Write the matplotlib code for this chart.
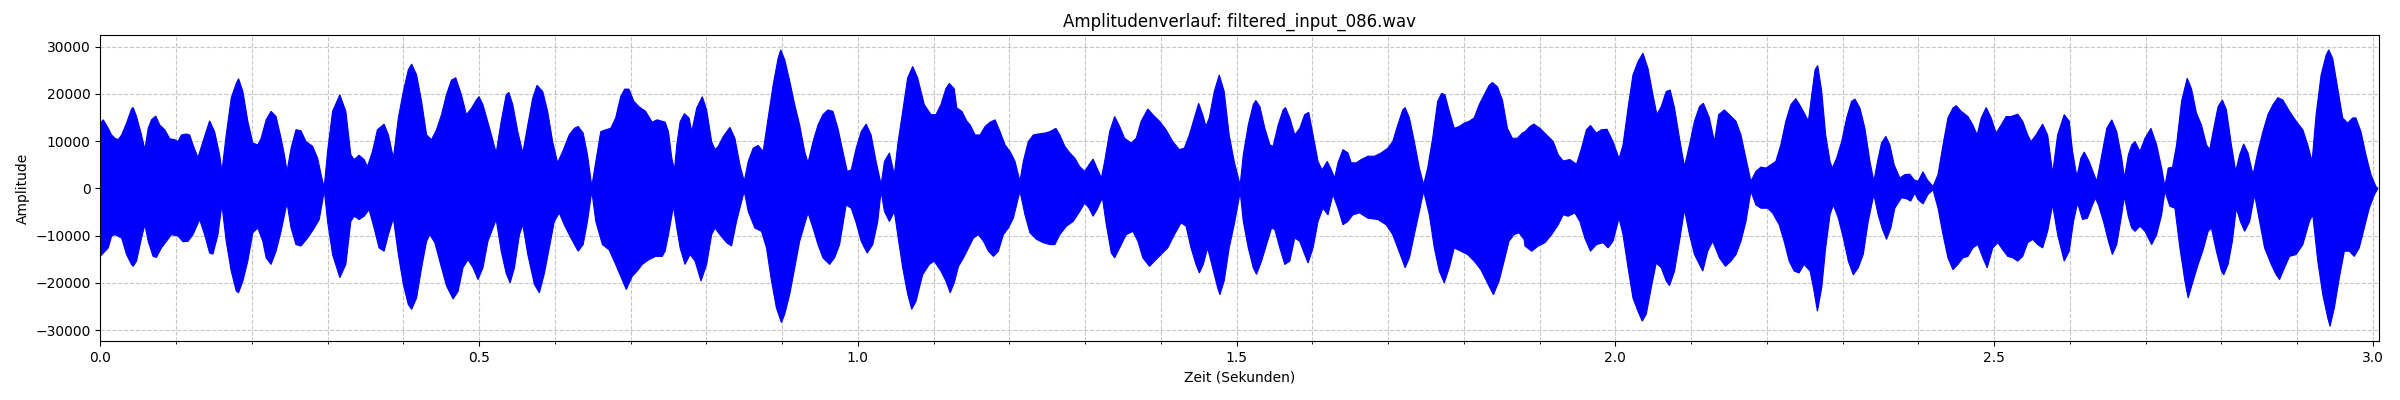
import matplotlib
matplotlib.use("Agg")
import matplotlib.pyplot as plt
from matplotlib.ticker import MultipleLocator
import numpy as np

title = "Amplitudenverlauf: filtered_input_086.wav"
x_label = "Zeit (Sekunden)"
y_label = "Amplitude"
duration = 3.0085

# Upper envelope of the waveform (time in s, amplitude)
upper_t = [
    0.0000, 0.0039, 0.0105, 0.0149, 0.0193, 0.0237, 0.0281, 0.0346, 0.0412, 0.0434, 0.0478, 0.0544, 0.0588,
    0.0632, 0.0675, 0.0732, 0.0785, 0.0851, 0.0917, 0.0982, 0.1026, 0.1070, 0.1136, 0.1180, 0.1224, 0.1289,
    0.1355, 0.1443, 0.1509, 0.1575, 0.1605, 0.1662, 0.1728, 0.1794, 0.1825, 0.1882, 0.1947, 0.2013, 0.2079,
    0.2123, 0.2189, 0.2254, 0.2320, 0.2386, 0.2430, 0.2465, 0.2518, 0.2583, 0.2649, 0.2715, 0.2803, 0.2868,
    0.2934, 0.2956, 0.3000, 0.3066, 0.3162, 0.3241, 0.3307, 0.3351, 0.3417, 0.3482, 0.3526, 0.3592, 0.3658,
    0.3746,
    0.3803, 0.3869, 0.3934, 0.4000, 0.4066, 0.4110, 0.4175, 0.4241, 0.4307, 0.4372, 0.4438, 0.4504, 0.4569,
    0.4635, 0.4692, 0.4767, 0.4832, 0.4898, 0.4964, 0.5000, 0.5051, 0.5139, 0.5226, 0.5292, 0.5358, 0.5393,
    0.5445, 0.5511, 0.5577, 0.5643, 0.5708, 0.5765, 0.5840, 0.5905, 0.5971, 0.6037, 0.6103, 0.6190, 0.6256,
    0.6308, 0.6374, 0.6431, 0.6488, 0.6541, 0.6606, 0.6672, 0.6738, 0.6803, 0.6869, 0.6922, 0.6978, 0.7044,
    0.7110, 0.7198, 0.7285, 0.7351, 0.7417,
    0.7456, 0.7500, 0.7544, 0.7579, 0.7610, 0.7654, 0.7711, 0.7772, 0.7807, 0.7873, 0.7947, 0.8004, 0.8070,
    0.8114, 0.8158, 0.8224, 0.8311, 0.8377, 0.8443, 0.8500, 0.8553, 0.8618, 0.8684, 0.8750, 0.8816, 0.8882,
    0.8947, 0.8982, 0.9035, 0.9101, 0.9167, 0.9232, 0.9298, 0.9342, 0.9408, 0.9474, 0.9539, 0.9605, 0.9671,
    0.9737, 0.9803, 0.9860, 0.9912, 0.9978, 1.0044, 1.0110, 1.0175, 1.0241, 1.0307, 1.0351, 1.0417, 1.0482,
    1.0526, 1.0592, 1.0658, 1.0724, 1.0789, 1.0877, 1.0965, 1.1031, 1.1096, 1.1162, 1.1206, 1.1272,
    1.1307, 1.1373, 1.1439, 1.1483, 1.1548, 1.1614, 1.1680, 1.1746, 1.1812, 1.1877, 1.1943, 1.2009, 1.2075,
    1.2140, 1.2184, 1.2250, 1.2316, 1.2381, 1.2469, 1.2535, 1.2614, 1.2666, 1.2732, 1.2798, 1.2864, 1.2929,
    1.2995, 1.3052, 1.3105, 1.3157, 1.3214, 1.3258, 1.3324, 1.3390, 1.3456, 1.3521, 1.3609, 1.3675, 1.3740,
    1.3828, 1.3894, 1.3982, 1.4069, 1.4157, 1.4245, 1.4310, 1.4376, 1.4442, 1.4499, 1.4552, 1.4595, 1.4639,
    1.4705, 1.4771, 1.4836, 1.4902, 1.4968, 1.5034,
    1.5044, 1.5088, 1.5154, 1.5219, 1.5254, 1.5307, 1.5373, 1.5439, 1.5482, 1.5548, 1.5614, 1.5645, 1.5702,
    1.5768, 1.5833, 1.5899, 1.5952, 1.6009, 1.6075, 1.6127, 1.6197, 1.6250, 1.6294, 1.6338, 1.6404, 1.6469,
    1.6513, 1.6579, 1.6645, 1.6732, 1.6820, 1.6908, 1.6996, 1.7061, 1.7127, 1.7193, 1.7224, 1.7281, 1.7346,
    1.7412, 1.7469, 1.7522, 1.7588, 1.7654, 1.7706, 1.7750, 1.7807, 1.7873, 1.7939, 1.8004, 1.8070, 1.8136,
    1.8202, 1.8268, 1.8333, 1.8377, 1.8443, 1.8509, 1.8575, 1.8640, 1.8706, 1.8772,
    1.8807, 1.8873, 1.8925, 1.9004, 1.9092, 1.9180, 1.9246, 1.9311, 1.9399, 1.9487, 1.9553, 1.9618, 1.9671,
    1.9750, 1.9816, 1.9890, 1.9969, 2.0048, 2.0101, 2.0167, 2.0232, 2.0298, 2.0364, 2.0430, 2.0496, 2.0548,
    2.0605, 2.0671, 2.0724, 2.0781, 2.0846, 2.0912, 2.0978, 2.1044, 2.1110, 2.1162, 2.1241, 2.1307, 2.1364,
    2.1439, 2.1504, 2.1592, 2.1658, 2.1724, 2.1789, 2.1855, 2.1921, 2.1987, 2.2053, 2.2118, 2.2184, 2.2250,
    2.2316, 2.2382, 2.2447, 2.2504,
    2.2548, 2.2592, 2.2636, 2.2671, 2.2724, 2.2776, 2.2833, 2.2864, 2.2921, 2.2987, 2.3053, 2.3118, 2.3162,
    2.3228, 2.3294, 2.3360, 2.3412, 2.3461, 2.3513, 2.3570, 2.3623, 2.3680, 2.3754, 2.3820, 2.3886, 2.3943,
    2.3996, 2.4061, 2.4118, 2.4193, 2.4259, 2.4325, 2.4390, 2.4456, 2.4500, 2.4566, 2.4654, 2.4719, 2.4776,
    2.4829, 2.4895, 2.4961, 2.5026, 2.5092, 2.5158, 2.5224, 2.5311, 2.5377, 2.5443, 2.5487, 2.5553, 2.5640,
    2.5706, 2.5772, 2.5838, 2.5925, 2.5991, 2.6035, 2.6092, 2.6145, 2.6189, 2.6254, 2.6320,
    2.6355, 2.6421, 2.6487, 2.6553, 2.6618, 2.6684, 2.6719, 2.6772, 2.6816, 2.6860, 2.6925, 2.6991, 2.7070,
    2.7145, 2.7211, 2.7254, 2.7298, 2.7355, 2.7408, 2.7474, 2.7548, 2.7605, 2.7671, 2.7737, 2.7803, 2.7846,
    2.7890, 2.7956, 2.8013, 2.8066, 2.8132, 2.8189, 2.8241, 2.8294, 2.8351, 2.8417, 2.8482, 2.8548, 2.8614,
    2.8680, 2.8746, 2.8811, 2.8899, 2.8987, 2.9075, 2.9140, 2.9197, 2.9250, 2.9316, 2.9382, 2.9417, 2.9469,
    2.9535, 2.9601, 2.9667, 2.9732, 2.9776, 2.9842, 2.9908, 2.9974, 3.0039, 3.0066,
]
upper_amp = [
    13800, 14500, 12700, 11300, 10600, 10300, 11300, 13800, 16800, 17100, 15200, 11300, 8200,
    12700, 14500, 15300, 13400, 12400, 10500, 10300, 9900, 11300, 11500, 11300, 9200, 6500,
    9900, 14300, 12000, 7100, 3600, 11300, 19100, 22200, 23200, 20500, 14200, 9600, 9200,
    10600, 14500, 16300, 15200, 10600, 7100, 3600, 8500, 12400, 12200, 9900, 8900, 6400,
    1500, 300, 7800, 16300, 19800, 16300, 7100, 6100, 7000, 6100, 4600, 7800, 12400,
    13600,
    11300, 6400, 14900, 20500, 25100, 26300, 24000, 18400, 11300, 10300, 12400, 15600, 19800,
    22900, 23400, 19800, 15600, 16900, 18700, 19400, 17700, 12700, 7500, 14200, 19800, 20300,
    17700, 12000, 7500, 13400, 19100, 21800, 20500, 16300, 9900, 5400, 7800, 11300, 12700,
    13100, 11700, 7100, 400, 5700, 12000, 12400, 12700, 14900, 19400, 21000, 21000, 18400,
    17300, 16300, 14000, 14500, 14200,
    14000, 12000, 6400, 3900, 9200, 14100, 15800, 14900, 12000, 17000, 19400, 16600, 9900,
    8200, 8900, 11000, 12900, 10600, 5000, 1500, 5700, 8500, 9100, 7800, 14900, 21900,
    27500, 29300, 27200, 22700, 17700, 13400, 7800, 5400, 9900, 13400, 15600, 16600, 16300,
    12700, 7800, 3600, 3900, 8500, 12000, 13600, 11300, 5700, 800, 5700, 7500, 2900,
    9200, 16300, 23400, 25800, 23400, 17700, 15600, 15600, 17700, 21100, 22200, 21100,
    17000, 16300, 14200, 13400, 11300, 11300, 13100, 14000, 14500, 12000, 9200, 7800, 5700,
    1500, 5700, 9900, 11300, 11500, 11700, 12000, 12700, 11300, 8900, 7500, 6400, 4600,
    3600, 5000, 6200, 4300, 2200, 5700, 12000, 15200, 13100, 10600, 9600, 10600, 14200,
    16800, 15600, 14200, 12400, 9900, 8200, 8500, 11300, 14900, 18000, 15600, 13100, 14900,
    20500, 24000, 20500, 11300, 5700, 1500,
    300, 7100, 13400, 17700, 18600, 17300, 12700, 9200, 8900, 13400, 16600, 17100, 14900,
    11300, 12700, 15600, 16100, 11300, 5700, 3900, 5700, 3900, 2200, 5400, 8200, 7500,
    5400, 5400, 6100, 6800, 6800, 7500, 8500, 9900, 13400, 16600, 17100, 14900, 9900,
    4300, 800, 4300, 10600, 18400, 20100, 19800, 16300, 12700, 13100, 13800, 14200, 14900,
    17700, 19800, 21800, 22400, 21500, 18700, 12700, 10600, 10600, 11700,
    12000, 13100, 13600, 12700, 11300, 9900, 7100, 5800, 6100, 5100, 8500, 12400, 13300,
    11700, 12400, 12500, 9900, 6300, 9200, 17000, 24000, 26800, 28600, 25400, 19800, 15600,
    17300, 20500, 20800, 17000, 10600, 4600, 9200, 14200, 17300, 18000, 14900, 9900, 15600,
    16600, 15600, 14200, 11300, 6300, 1500, 3600, 4500, 4300, 5000, 5700, 9200, 14200,
    17700, 19000, 17300, 15600,
    14200, 19800, 25100, 26000, 20500, 11300, 5700, 4300, 6400, 9900, 14900, 18400, 18900,
    17000, 12700, 5700, 1500, 5700, 9600, 11000, 9200, 5000, 2200, 2900, 3000, 1800,
    1500, 3500, 1800, 400, 2900, 9200, 14900, 17000, 17500, 16300, 15200, 13400, 11300,
    14900, 17100, 14900, 11700, 13400, 15200, 15200, 15700, 14200, 11300, 9900, 11300, 13600,
    11300, 3200, 11300, 15600, 14200, 7800, 2500, 6400, 7700, 5700, 2900,
    1500, 7100, 12700, 14500, 12000, 6400, 2200, 7100, 9200, 9900, 7800, 10600, 12700,
    9200, 4300, 400, 4300, 4500, 9200, 18400, 23300, 21100, 15900, 13400, 9200, 8200,
    12000, 17300, 18700, 16600, 9200, 3600, 7100, 9400, 7500, 2900, 7800, 12000, 15600,
    17700, 19200, 18700, 16300, 14200, 12400, 9200, 5700, 15600, 24000, 28200, 29300, 27500,
    21200, 14900, 13800, 14900, 14900, 12000, 7100, 2900, 400, 0,
]

# Lower envelope of the waveform (time in s, amplitude)
lower_t = [
    0.0000, 0.0039, 0.0105, 0.0149, 0.0193, 0.0281, 0.0346, 0.0412, 0.0434, 0.0478, 0.0544, 0.0588, 0.0632,
    0.0697, 0.0741, 0.0807, 0.0873, 0.0939, 0.1026, 0.1092, 0.1158, 0.1224, 0.1311, 0.1377, 0.1443, 0.1487,
    0.1553, 0.1605, 0.1662, 0.1728, 0.1794, 0.1825, 0.1882, 0.1947, 0.2013, 0.2079, 0.2145, 0.2189, 0.2254,
    0.2320, 0.2386, 0.2465, 0.2518, 0.2583, 0.2649, 0.2737, 0.2825, 0.2890, 0.2934, 0.2956, 0.3000, 0.3066,
    0.3162, 0.3241, 0.3307, 0.3351, 0.3417, 0.3482, 0.3548, 0.3614, 0.3680, 0.3746,
    0.3803, 0.3869, 0.3934, 0.4000, 0.4066, 0.4110, 0.4175, 0.4241, 0.4307, 0.4350, 0.4416, 0.4504, 0.4569,
    0.4657, 0.4723, 0.4788, 0.4854, 0.4920, 0.4986, 0.5051, 0.5117, 0.5226, 0.5292, 0.5358, 0.5410, 0.5467,
    0.5533, 0.5577, 0.5643, 0.5730, 0.5796, 0.5862, 0.5927, 0.5993, 0.6059, 0.6124, 0.6212, 0.6308, 0.6374,
    0.6431, 0.6488, 0.6541, 0.6628, 0.6716, 0.6803, 0.6869, 0.6943, 0.7022, 0.7088, 0.7154, 0.7241, 0.7329,
    0.7417,
    0.7456, 0.7500, 0.7566, 0.7610, 0.7654, 0.7719, 0.7785, 0.7851, 0.7930, 0.8004, 0.8070, 0.8114, 0.8180,
    0.8268, 0.8333, 0.8399, 0.8500, 0.8553, 0.8640, 0.8728, 0.8794, 0.8860, 0.8925, 0.8991, 0.9035, 0.9101,
    0.9167, 0.9232, 0.9342, 0.9408, 0.9474, 0.9539, 0.9627, 0.9693, 0.9759, 0.9846, 0.9912, 0.9978, 1.0044,
    1.0123, 1.0197, 1.0263, 1.0307, 1.0351, 1.0417, 1.0482, 1.0526, 1.0592, 1.0658, 1.0711, 1.0768, 1.0855,
    1.0943, 1.1009, 1.1096, 1.1162, 1.1219, 1.1272,
    1.1329, 1.1395, 1.1461, 1.1527, 1.1592, 1.1658, 1.1724, 1.1790, 1.1855, 1.1921, 1.1987, 1.2053, 1.2140,
    1.2206, 1.2272, 1.2359, 1.2447, 1.2535, 1.2601, 1.2666, 1.2754, 1.2842, 1.2929, 1.2995, 1.3052, 1.3105,
    1.3157, 1.3228, 1.3280, 1.3346, 1.3390, 1.3456, 1.3543, 1.3631, 1.3697, 1.3762, 1.3850, 1.3916, 1.4003,
    1.4091, 1.4179, 1.4267, 1.4332, 1.4398, 1.4464, 1.4508, 1.4560, 1.4617, 1.4683, 1.4749, 1.4779, 1.4836,
    1.4902, 1.4968, 1.5034,
    1.5044, 1.5088, 1.5154, 1.5219, 1.5263, 1.5329, 1.5395, 1.5461, 1.5504, 1.5570, 1.5636, 1.5702, 1.5768,
    1.5833, 1.5899, 1.5943, 1.6009, 1.6075, 1.6140, 1.6206, 1.6272, 1.6338, 1.6404, 1.6469, 1.6535, 1.6623,
    1.6732, 1.6864, 1.6974, 1.7061, 1.7127, 1.7193, 1.7224, 1.7281, 1.7346, 1.7412, 1.7469, 1.7544, 1.7610,
    1.7675, 1.7741, 1.7807, 1.7873, 1.7961, 1.8048, 1.8136, 1.8224, 1.8311, 1.8390, 1.8465, 1.8531, 1.8596,
    1.8662, 1.8728, 1.8794,
    1.8807, 1.8895, 1.8982, 1.9070, 1.9158, 1.9246, 1.9311, 1.9377, 1.9465, 1.9531, 1.9596, 1.9671, 1.9750,
    1.9838, 1.9904, 1.9969, 2.0048, 2.0101, 2.0167, 2.0232, 2.0298, 2.0355, 2.0408, 2.0474, 2.0539, 2.0605,
    2.0671, 2.0715, 2.0781, 2.0846, 2.0912, 2.0978, 2.1044, 2.1110, 2.1154, 2.1219, 2.1285, 2.1373, 2.1452,
    2.1526, 2.1592, 2.1658, 2.1724, 2.1789, 2.1855, 2.1921, 2.2009, 2.2075, 2.2162, 2.2228, 2.2294, 2.2360,
    2.2425, 2.2491,
    2.2570, 2.2614, 2.2667, 2.2724, 2.2776, 2.2833, 2.2877, 2.2943, 2.3009, 2.3075, 2.3140, 2.3206, 2.3272,
    2.3338, 2.3412, 2.3469, 2.3526, 2.3579, 2.3636, 2.3689, 2.3776, 2.3842, 2.3899, 2.3952, 2.3996, 2.4061,
    2.4127, 2.4193, 2.4259, 2.4325, 2.4390, 2.4456, 2.4522, 2.4588, 2.4654, 2.4719, 2.4785, 2.4851, 2.4908,
    2.4982, 2.5048, 2.5114, 2.5180, 2.5246, 2.5311, 2.5377, 2.5443, 2.5509, 2.5575, 2.5640, 2.5706, 2.5772,
    2.5838, 2.5925, 2.5991, 2.6048, 2.6101, 2.6167, 2.6232, 2.6298, 2.6320,
    2.6333, 2.6377, 2.6443, 2.6509, 2.6561, 2.6618, 2.6684, 2.6719, 2.6772, 2.6816, 2.6860, 2.6925, 2.6991,
    2.7079, 2.7145, 2.7211, 2.7254, 2.7320, 2.7386, 2.7452, 2.7518, 2.7561, 2.7627, 2.7693, 2.7759, 2.7825,
    2.7868, 2.7934, 2.8000, 2.8031, 2.8088, 2.8145, 2.8197, 2.8250, 2.8307, 2.8373, 2.8439, 2.8504, 2.8570,
    2.8658, 2.8724, 2.8768, 2.8833, 2.8899, 2.8987, 2.9075, 2.9162, 2.9206, 2.9272, 2.9338, 2.9404, 2.9434,
    2.9491, 2.9557, 2.9623, 2.9689, 2.9754, 2.9820, 2.9886, 2.9952, 3.0018, 3.0066,
]
lower_amp = [
    -14400, -13700, -12600, -10100, -9800, -10500, -14000, -16100, -16500, -15400, -10500, -7700, -11200,
    -14400, -14600, -12600, -11200, -9800, -10100, -11300, -11200, -9800, -6600, -9800, -13700, -13900,
    -9800, -3500, -11200, -17500, -21700, -22100, -19600, -15400, -9400, -8400, -11200, -14700, -16100,
    -13300, -9100, -3100, -8400, -11900, -12200, -10500, -8400, -6600, -2700, -300, -7000, -14000,
    -18900, -16100, -7000, -5900, -6600, -5900, -4500, -8400, -12600, -13300,
    -9800, -6300, -14000, -20300, -24600, -25600, -23200, -16800, -11200, -9800, -11500, -16800, -20600,
    -23400, -21800, -16800, -15100, -16800, -19300, -16800, -11200, -6600, -13300, -18000, -20000, -16800,
    -9800, -7700, -14000, -20300, -22100, -18000, -12600, -7000, -5200, -7700, -10500, -13300, -11900,
    -7000, -600, -7000, -11900, -13000, -16100, -18600, -21400, -18600, -17500, -16100, -15100, -14400,
    -14400,
    -13300, -9800, -3800, -8400, -12600, -16100, -14000, -15400, -19600, -16100, -9800, -8400, -9800,
    -11500, -12200, -7000, -600, -4900, -8400, -9100, -12600, -19600, -25300, -28400, -26600, -22400,
    -16800, -11200, -5200, -8400, -11900, -14700, -16100, -14700, -11900, -3500, -4200, -7300, -11200,
    -13700, -11900, -7000, -600, -4900, -7000, -4900, -9800, -16800, -22400, -25600, -23900, -18300,
    -16100, -15400, -17500, -19600, -22100, -20000,
    -16500, -14700, -12600, -10500, -9800, -11200, -13300, -14400, -13300, -9800, -8400, -6300, -600,
    -5600, -9400, -10800, -11500, -11900, -11900, -9800, -8000, -7000, -4900, -3100, -4200, -5900,
    -4500, -2000, -7700, -13700, -14700, -12600, -9800, -9100, -11200, -14700, -16500, -15400, -14000,
    -12600, -9800, -7300, -8000, -12600, -16100, -17900, -16100, -12600, -16800, -21000, -22500, -19600,
    -12600, -7700, -2000,
    -300, -7000, -12600, -16800, -18200, -15400, -11900, -8400, -8700, -12600, -16100, -15400, -10500,
    -11200, -14000, -15800, -12600, -7000, -4200, -5600, -1300, -4200, -7700, -7000, -5600, -5200,
    -6300, -6600, -7700, -9800, -12600, -15400, -16800, -14700, -9800, -4900, -600, -5600, -12600,
    -17500, -20000, -16800, -12600, -13300, -14000, -15400, -17200, -20000, -22500, -19600, -15400, -11200,
    -9800, -9400, -10800,
    -12200, -13300, -12200, -11500, -9800, -7700, -5600, -5900, -5200, -7000, -10500, -13300, -11900,
    -11500, -12600, -11200, -6300, -9800, -16800, -23200, -26000, -28100, -26600, -21000, -15800, -16800,
    -19600, -20600, -17500, -11200, -4500, -9800, -14000, -16100, -17500, -13300, -11200, -14700, -16500,
    -15400, -14000, -11200, -7000, -600, -3500, -4200, -4200, -5200, -7700, -11200, -15400, -17500,
    -17900, -16100,
    -17500, -21000, -26000, -21000, -12600, -5600, -3500, -6300, -10500, -15400, -18300, -16800, -14000,
    -7000, -1300, -5600, -8700, -10800, -8400, -4200, -2000, -2200, -2700, -1000, -2400, -3300,
    -1300, -300, -4200, -9800, -14700, -17200, -16100, -14700, -14400, -12600, -11900, -14700, -16800,
    -12600, -11500, -13000, -14400, -14700, -15400, -14400, -11500, -10800, -11900, -12600, -9100, -3500,
    -9800, -15400, -13300, -7000, -3100, -6600, -6300, -3500, -2700,
    -2000, -3500, -7000, -11200, -14000, -11900, -5600, -1700, -6000, -8400, -9100, -8000, -9100,
    -11900, -9800, -5600, -600, -3800, -4200, -12600, -19600, -23200, -19600, -16100, -13000, -9100,
    -8400, -13300, -17500, -18300, -16100, -11200, -4200, -7000, -9100, -7000, -1400, -7000, -12600,
    -16100, -18300, -19300, -16800, -14400, -14000, -11900, -7000, -5600, -15400, -22500, -27400, -29200,
    -25300, -18900, -13300, -13300, -14400, -12600, -8400, -4200, -1400, 0,
]

fig, ax = plt.subplots(figsize=(24, 4), dpi=100)
fig.subplots_adjust(left=0.0418, right=0.9914, top=0.9125, bottom=0.1475)

poly_t = np.concatenate([np.asarray(upper_t), np.asarray(lower_t)[::-1]])
poly_a = np.concatenate([np.asarray(upper_amp), np.asarray(lower_amp)[::-1]])
ax.fill(poly_t, poly_a, facecolor="blue", edgecolor="blue", linewidth=0.8, zorder=2)

ax.set_xlim(0, duration)
ax.set_ylim(-32300, 32450)
ax.xaxis.set_major_locator(MultipleLocator(0.5))
ax.xaxis.set_minor_locator(MultipleLocator(0.1))
ax.yaxis.set_major_locator(MultipleLocator(10000))
ax.grid(True, which="both", linestyle="--", alpha=0.7, zorder=0)
ax.set_axisbelow(True)

ax.set_title(title)
ax.set_xlabel(x_label)
ax.set_ylabel(y_label)

fig.savefig("out.png", dpi=100)
